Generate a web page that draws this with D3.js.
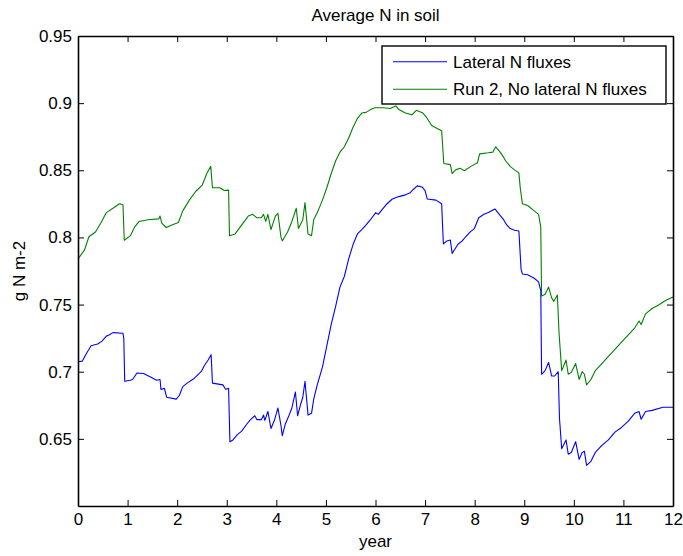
<!DOCTYPE html>
<html>
<head>
<meta charset="utf-8">
<script src="https://cdn.jsdelivr.net/npm/d3@7"></script>
<style>
  html, body { margin: 0; padding: 0; background: #fff; }
  svg { display: block; }
  text { font-family: "Liberation Sans", Arial, sans-serif; fill: #000; }
</style>
</head>
<body>
<svg id="chart" width="683" height="556"></svg>
<script>
// Simulated soil nitrogen, two model runs (years since start, g N m-2)
const lateralYears = [
  0, 0.088, 0.176, 0.264, 0.396, 0.484, 0.572, 0.616, 0.704, 0.907, 0.924, 0.942,
  1.057, 1.101, 1.189, 1.321, 1.453, 1.585, 1.655, 1.673, 1.743, 1.787, 1.981,
  2.043, 2.113, 2.201, 2.333, 2.483, 2.553, 2.624, 2.685, 2.712, 2.923, 2.976,
  3.037, 3.064, 3.126, 3.214, 3.302, 3.390, 3.478, 3.566, 3.610, 3.698, 3.742,
  3.768, 3.830, 3.892, 3.962, 4.032, 4.094, 4.120, 4.182, 4.244, 4.314, 4.385,
  4.429, 4.490, 4.534, 4.578, 4.640, 4.710, 4.754, 4.825, 4.930, 5.018, 5.107,
  5.195, 5.283, 5.371, 5.459, 5.547, 5.635, 5.723, 5.811, 5.899, 6.005, 6.057,
  6.145, 6.234, 6.339, 6.471, 6.603, 6.691, 6.762, 6.841, 6.938, 7.000, 7.044,
  7.220, 7.334, 7.369, 7.440, 7.510, 7.545, 7.616, 7.660, 7.748, 7.818, 7.906,
  7.994, 8.082, 8.188, 8.276, 8.408, 8.496, 8.584, 8.646, 8.716, 8.804, 8.892,
  8.936, 8.963, 9.069, 9.201, 9.289, 9.333, 9.350, 9.421, 9.491, 9.553, 9.614,
  9.685, 9.711, 9.755, 9.843, 9.887, 9.949, 10.037, 10.107, 10.169, 10.213,
  10.257, 10.345, 10.433, 10.565, 10.697, 10.829, 10.961, 11.094, 11.226, 11.314,
  11.358, 11.446, 11.578, 11.798, 12.0
];
const lateralValues = [
  0.7074, 0.7079, 0.714, 0.7193, 0.7206, 0.7228, 0.7265, 0.7272, 0.7291, 0.7286, 0.7246, 0.6929,
  0.6937, 0.6942, 0.699, 0.6987, 0.6963, 0.6937, 0.6942, 0.6868, 0.6876, 0.681, 0.6796,
  0.6823, 0.6889, 0.6915, 0.6947, 0.70, 0.7048, 0.7087, 0.7127, 0.6915, 0.6902, 0.687,
  0.6876, 0.6479, 0.6492, 0.6532, 0.6558, 0.6603, 0.6643, 0.6672, 0.6643, 0.6643, 0.6677,
  0.6638, 0.6704, 0.6577, 0.6638, 0.673, 0.6598, 0.6524, 0.6611, 0.6664, 0.673, 0.6849,
  0.6672, 0.6757, 0.681, 0.6929, 0.6677, 0.669, 0.6796, 0.6902, 0.7034, 0.7193, 0.7352,
  0.7484, 0.763, 0.7709, 0.784, 0.7947, 0.8026, 0.8058, 0.8093, 0.8132, 0.8185, 0.8172,
  0.8212, 0.8251, 0.8286, 0.8304, 0.8317, 0.833, 0.8357, 0.8384, 0.8376, 0.8349, 0.8286,
  0.8278, 0.8251, 0.7952, 0.7974, 0.7981, 0.7881, 0.7921, 0.7947, 0.7974, 0.8005, 0.804,
  0.8066, 0.8146, 0.8172, 0.8185, 0.8212, 0.8172, 0.8132, 0.8093, 0.8066, 0.8053, 0.8048,
  0.7762, 0.7728, 0.7722, 0.7696, 0.7669, 0.7603, 0.6981, 0.7008, 0.7069, 0.6968, 0.6968,
  0.70, 0.6651, 0.6426, 0.6492, 0.6386, 0.6399, 0.6479, 0.6347, 0.6399, 0.6407,
  0.6302, 0.6333, 0.6399, 0.6452, 0.6492, 0.655, 0.6585, 0.663, 0.669, 0.6704,
  0.6646, 0.6704, 0.6712, 0.6735, 0.6735
];

const noLateralYears = [
  0, 0.132, 0.220, 0.352, 0.458, 0.572, 0.704, 0.836, 0.907, 0.933,
  1.057, 1.145, 1.233, 1.409, 1.629, 1.655, 1.690, 1.778, 1.893, 2.025,
  2.113, 2.245, 2.377, 2.509, 2.597, 2.677, 2.712, 2.861, 2.949, 3.037,
  3.055, 3.170, 3.302, 3.434, 3.522, 3.610, 3.698, 3.742, 3.786, 3.830,
  3.892, 3.980, 4.032, 4.094, 4.120, 4.226, 4.314, 4.402, 4.446, 4.534,
  4.578, 4.640, 4.710, 4.754, 4.842, 4.930, 5.018, 5.107, 5.195, 5.283,
  5.371, 5.459, 5.547, 5.635, 5.723, 5.811, 5.899, 5.987, 6.163, 6.295,
  6.410, 6.471, 6.603, 6.735, 6.823, 6.956, 7.044, 7.132, 7.264, 7.334,
  7.378, 7.510, 7.545, 7.616, 7.704, 7.792, 7.924, 8.056, 8.100, 8.276,
  8.364, 8.426, 8.540, 8.628, 8.716, 8.804, 8.892, 8.919, 8.963, 9.069,
  9.201, 9.289, 9.333, 9.350, 9.421, 9.491, 9.553, 9.597, 9.667, 9.702,
  9.755, 9.843, 9.887, 9.949, 10.037, 10.107, 10.169, 10.213, 10.257, 10.345,
  10.433, 10.565, 10.697, 10.829, 10.961, 11.094, 11.226, 11.314, 11.358, 11.446,
  11.578, 11.710, 11.842, 12.0
];
const noLateralValues = [
  0.784, 0.7907, 0.8005, 0.804, 0.8106, 0.8185, 0.8217, 0.8251, 0.8243, 0.7979,
  0.8013, 0.8079, 0.8119, 0.8132, 0.8138, 0.8159, 0.8106, 0.8074, 0.8093, 0.8111,
  0.8198, 0.8278, 0.8344, 0.8392, 0.8476, 0.8529, 0.837, 0.837, 0.8349, 0.8352,
  0.8013, 0.8026, 0.8093, 0.8159, 0.8172, 0.8146, 0.8146, 0.8172, 0.8119, 0.8172,
  0.8058, 0.8159, 0.818, 0.800, 0.7974, 0.804, 0.8119, 0.8217, 0.8066, 0.8132,
  0.8259, 0.8026, 0.8013, 0.8132, 0.8198, 0.8278, 0.837, 0.8476, 0.8569, 0.8635,
  0.8675, 0.8741, 0.882, 0.8886, 0.8926, 0.8931, 0.8952, 0.8966, 0.8966, 0.896,
  0.8979, 0.8952, 0.8926, 0.8913, 0.8947, 0.8926, 0.8886, 0.8833, 0.8807, 0.8794,
  0.855, 0.8542, 0.8476, 0.8503, 0.8516, 0.8497, 0.8529, 0.8556, 0.8622, 0.863,
  0.8635, 0.8675, 0.8622, 0.8569, 0.8529, 0.8503, 0.8481, 0.837, 0.8251, 0.8238,
  0.8198, 0.8172, 0.8079, 0.7563, 0.7577, 0.763, 0.755, 0.7524, 0.7571, 0.7286,
  0.7008, 0.7087, 0.6981, 0.6995, 0.7061, 0.6942, 0.70, 0.6981, 0.6902, 0.6942,
  0.7008, 0.7061, 0.7114, 0.7167, 0.722, 0.7272, 0.7325, 0.7378, 0.7352, 0.7431,
  0.7471, 0.7497, 0.7529, 0.7556
];

const seriesNames = ["Lateral N fluxes", "Run 2, No lateral N fluxes"];
const seriesColors = ["#0000ff", "#008000"];
const xTicks = [0, 1, 2, 3, 4, 5, 6, 7, 8, 9, 10, 11, 12];
const yTicks = [0.65, 0.7, 0.75, 0.8, 0.85, 0.9, 0.95];
const titleText = "Average N in soil";
const xLabel = "year";
const yLabel = "g N m-2";

// Layout
const margin = { left: 78, right: 10, top: 36, bottom: 50 };
const W = 683, H = 556;
const plotW = W - margin.left - margin.right;  // 595
const plotH = H - margin.top - margin.bottom;  // 470

const svg = d3.select("#chart");
const g = svg.append("g").attr("transform", `translate(${margin.left},${margin.top})`);

const x = d3.scaleLinear().domain([0, 12]).range([0, plotW]);
const y = d3.scaleLinear().domain([0.6, 0.95]).range([plotH, 0]);

const series = [
  { name: seriesNames[0], color: seriesColors[0], pts: lateralYears.map((t, i) => [t, lateralValues[i]]) },
  { name: seriesNames[1], color: seriesColors[1], pts: noLateralYears.map((t, i) => [t, noLateralValues[i]]) }
];

const line = d3.line().x(d => x(d[0])).y(d => y(d[1]));

g.selectAll("path.series")
  .data(series)
  .join("path")
  .attr("class", "series")
  .attr("fill", "none")
  .attr("stroke", d => d.color)
  .attr("stroke-width", 1.1)
  .attr("stroke-linejoin", "round")
  .attr("d", d => line(d.pts));

// Axes (box with inward ticks on all four sides)
const fmt = v => String(v);
const styleAxis = sel => {
  sel.select(".domain").attr("stroke", "#000").attr("stroke-width", 1.6);
  sel.selectAll(".tick line").attr("stroke", "#000").attr("stroke-width", 1);
  sel.selectAll(".tick text").style("font-size", "17px").style("font-family", '"Liberation Sans", Arial, sans-serif').attr("fill", "#000");
};

g.append("g")
  .attr("transform", `translate(0,${plotH})`)
  .call(d3.axisBottom(x).tickValues(xTicks).tickFormat(fmt).tickSizeInner(-6).tickSizeOuter(0).tickPadding(7))
  .call(styleAxis);

g.append("g")
  .call(d3.axisTop(x).tickValues(xTicks).tickFormat("").tickSizeInner(-6).tickSizeOuter(0))
  .call(styleAxis);

g.append("g")
  .call(d3.axisLeft(y).tickValues(yTicks).tickFormat(fmt).tickSizeInner(-6).tickSizeOuter(0).tickPadding(6))
  .call(styleAxis);

g.append("g")
  .attr("transform", `translate(${plotW},0)`)
  .call(d3.axisRight(y).tickValues(yTicks).tickFormat("").tickSizeInner(-6).tickSizeOuter(0))
  .call(styleAxis);

// Title and axis labels
svg.append("text")
  .attr("x", margin.left + plotW / 2)
  .attr("y", 21)
  .attr("text-anchor", "middle")
  .style("font-size", "17px")
  .text(titleText);

svg.append("text")
  .attr("x", margin.left + plotW / 2)
  .attr("y", 547)
  .attr("text-anchor", "middle")
  .style("font-size", "17px")
  .text(xLabel);

svg.append("text")
  .attr("transform", `translate(25,${margin.top + plotH / 2}) rotate(-90)`)
  .attr("text-anchor", "middle")
  .style("font-size", "17px")
  .text(yLabel);

// Legend
const legend = svg.append("g").attr("transform", "translate(382,46)");
legend.append("rect")
  .attr("width", 284)
  .attr("height", 58)
  .attr("fill", "#fff")
  .attr("stroke", "#000")
  .attr("stroke-width", 1.4);

const items = legend.selectAll("g.item")
  .data(series)
  .join("g")
  .attr("class", "item")
  .attr("transform", (d, i) => `translate(0,${15.7 + i * 27.6})`);

items.append("line")
  .attr("x1", 11).attr("x2", 65)
  .attr("stroke", d => d.color)
  .attr("stroke-width", 1.1);

items.append("text")
  .attr("x", 71)
  .attr("y", 6)
  .style("font-size", "17px")
  .text(d => d.name);
</script>
</body>
</html>
